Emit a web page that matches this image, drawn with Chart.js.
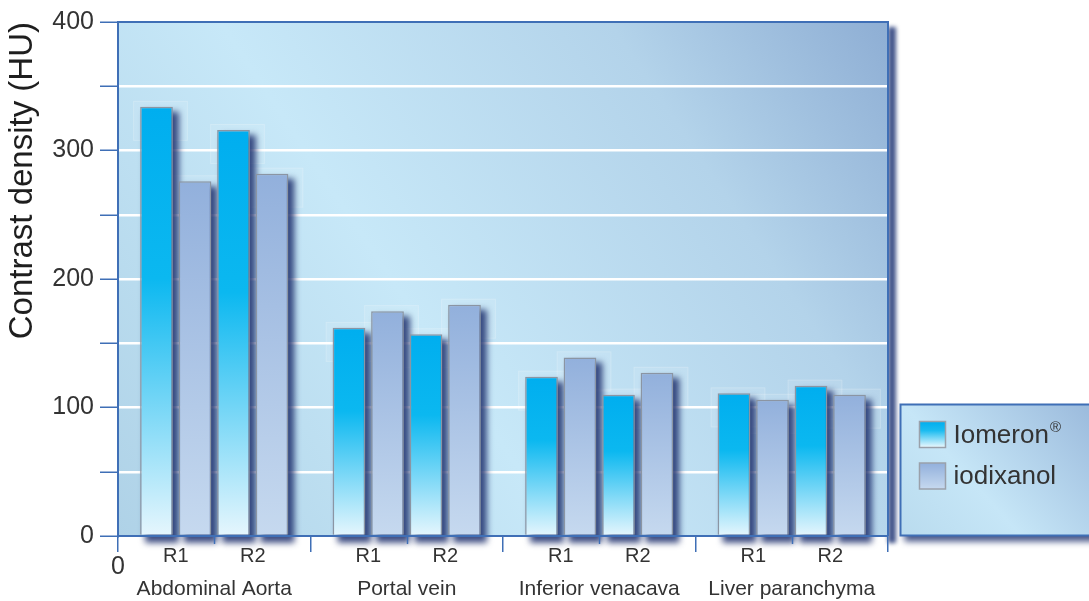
<!DOCTYPE html>
<html>
<head>
<meta charset="utf-8">
<title>Contrast density</title>
<script src="https://cdn.jsdelivr.net/npm/chart.js@4.4.0/dist/chart.umd.min.js"></script>
<style>
  html, body { margin: 0; padding: 0; background: #fff; }
  #wrap { width: 1089px; height: 601px; position: relative; }
</style>
</head>
<body>
<div id="wrap"><canvas id="density"></canvas></div>
<script>
// regions along the x axis, two readers per region
const regions = ['Abdominal Aorta', 'Portal vein', 'Inferior venacava', 'Liver paranchyma'];
const readers = ['R1', 'R2'];

// mean contrast density in HU, one value per region
const iomeronR1 = [334, 162, 124, 111];
const iodixanolR1 = [276, 175, 139, 106];
const iomeronR2 = [316, 157, 110, 117];
const iodixanolR2 = [282, 180, 127, 110];

const agents = ['Iomeron®', 'iodixanol'];
const yLabelled = [0, 100, 200, 300, 400];
const yTitle = 'Contrast density (HU)';
const originLabel = '0';

const FONT = "'Liberation Sans', Arial, sans-serif";
const AXIS_BLUE = '#3f6fb6';
const TEXT = '#333333';

const iomeronStops = [[0, '#00aeef'], [0.4, '#0bb8f0'], [1, '#e6f6fd']];
const iodixanolStops = [[0, '#92b0dc'], [1, '#c6d9ef']];

// vertical gradient spanning each bar from its top down to zero
function barFill(stops) {
    return (c) => {
        const chart = c.chart;
        if (!chart.chartArea || typeof c.raw !== 'number') return stops[0][1];
        const y = chart.scales.y;
        const g = chart.ctx.createLinearGradient(0, y.getPixelForValue(c.raw), 0, y.getPixelForValue(0));
        stops.forEach(([o, col]) => g.addColorStop(o, col));
        return g;
    };
}

function makeDataset(label, data, stops) {
    return {
        label: label,
        data: data,
        backgroundColor: barFill(stops),
        borderColor: '#8b95a3',
        borderWidth: 1.5,
        borderSkipped: 'bottom',
    };
}

const plotDecor = {
    id: 'plotDecor',
    beforeDraw(chart) {
        const { ctx, chartArea: a } = chart;
        ctx.save();
        // shadow on the right of the plot frame
        ctx.filter = 'blur(2px)';
        ctx.fillStyle = 'rgba(45,65,125,0.9)';
        ctx.fillRect(a.right, a.top + 5, 8, a.bottom - a.top + 2);
        ctx.restore();

        const g = ctx.createLinearGradient(a.left, a.bottom, a.right, a.top);
        g.addColorStop(0, '#afd2e7');
        g.addColorStop(0.4, '#c7e8f8');
        g.addColorStop(0.75, '#b3d3ea');
        g.addColorStop(1, '#8eaed4');
        ctx.save();
        ctx.fillStyle = g;
        ctx.fillRect(a.left, a.top, a.right - a.left, a.bottom - a.top);
        ctx.restore();
    },
    beforeDatasetsDraw(chart) {
        const ctx = chart.ctx;
        const bars = [];
        chart.data.datasets.forEach((ds, i) => {
            chart.getDatasetMeta(i).data.forEach((bar) => bars.push(bar));
        });
        ctx.save();
        // faint halo behind the top of each bar
        ctx.fillStyle = 'rgba(255,255,255,0.09)';
        ctx.strokeStyle = 'rgba(255,255,255,0.18)';
        ctx.lineWidth = 1;
        bars.forEach((bar) => {
            const w = bar.width;
            ctx.fillRect(bar.x - w / 2 - 7, bar.y - 6, w + 22, 40);
            ctx.strokeRect(bar.x - w / 2 - 6.5, bar.y - 5.5, w + 21, 39);
        });
        ctx.restore();

        // soft drop shadow below and right of every bar
        ctx.save();
        ctx.filter = 'blur(3px)';
        ctx.fillStyle = 'rgba(28,46,108,0.85)';
        bars.forEach((bar) => {
            const w = bar.width;
            ctx.fillRect(bar.x - w / 2 + 5, bar.y + 5, w + 1, bar.base - bar.y + 3);
        });
        ctx.restore();
    },
    afterDatasetsDraw(chart) {
        const { ctx, chartArea: a, scales } = chart;
        ctx.save();
        ctx.strokeStyle = AXIS_BLUE;
        ctx.lineWidth = 2;
        ctx.beginPath();
        ctx.moveTo(a.left, a.top);
        ctx.lineTo(a.right, a.top);
        ctx.lineTo(a.right, a.bottom);
        ctx.stroke();
        ctx.beginPath();
        ctx.moveTo(a.left, a.bottom);
        ctx.lineTo(a.right, a.bottom);
        ctx.stroke();

        // short ticks between the two readers of a region
        ctx.lineWidth = 1.5;
        regions.forEach((r, i) => {
            const x = Math.round(scales.x.getPixelForValue(i)) + 0.5;
            ctx.beginPath();
            ctx.moveTo(x, a.bottom);
            ctx.lineTo(x, a.bottom + 8);
            ctx.stroke();
        });

        // reader labels under each pair of bars
        ctx.fillStyle = TEXT;
        ctx.font = '20px ' + FONT;
        ctx.textAlign = 'center';
        ctx.textBaseline = 'middle';
        readers.forEach((rd, k) => {
            const m1 = chart.getDatasetMeta(2 * k).data;
            const m2 = chart.getDatasetMeta(2 * k + 1).data;
            regions.forEach((r, i) => {
                ctx.fillText(rd, (m1[i].x + m2[i].x) / 2, a.bottom + 20);
            });
        });

        ctx.font = '25px ' + FONT;
        ctx.fillText(originLabel, a.left, a.bottom + 31);
        ctx.restore();

        drawLegend(chart);
    },
};

function drawLegend(chart) {
    const { ctx, chartArea: a } = chart;
    const lx = a.right + 12.5, ly = a.bottom - 131.5, lw = chart.width - lx + 20, lh = 131;
    ctx.save();
    ctx.filter = 'blur(3px)';
    ctx.fillStyle = 'rgba(28,46,108,0.8)';
    ctx.fillRect(lx + 4, ly + 6, lw, lh);
    ctx.restore();

    ctx.save();
    const g = ctx.createLinearGradient(lx, ly + lh, lx + 190, ly - 40);
    g.addColorStop(0, '#b9dbee');
    g.addColorStop(0.35, '#c6e6f7');
    g.addColorStop(1, '#93b2d7');
    ctx.fillStyle = g;
    ctx.fillRect(lx, ly, lw, lh);
    ctx.strokeStyle = AXIS_BLUE;
    ctx.lineWidth = 2;
    ctx.strokeRect(lx, ly, lw, lh);

    agents.forEach((name, i) => {
        const sx = lx + 19, sy = ly + 17 + i * 41.5, s = 26;
        const sg = ctx.createLinearGradient(0, sy, 0, sy + s);
        if (i === 0) {
            sg.addColorStop(0, '#00aeef');
            sg.addColorStop(0.35, '#1cbcf0');
            sg.addColorStop(1, '#eef9fe');
        } else {
            iodixanolStops.forEach(([o, col]) => sg.addColorStop(o, col));
        }
        ctx.fillStyle = sg;
        ctx.fillRect(sx, sy, s, s);
        ctx.strokeStyle = '#9aa1ab';
        ctx.lineWidth = 1.5;
        ctx.strokeRect(sx, sy, s, s);

        ctx.fillStyle = TEXT;
        ctx.textAlign = 'left';
        ctx.textBaseline = 'middle';
        const main = name.replace('®', '');
        ctx.font = '26px ' + FONT;
        ctx.fillText(main, sx + 34, sy + s / 2 + 1);
        if (name.includes('®')) {
            const w = ctx.measureText(main).width;
            ctx.font = '15px ' + FONT;
            ctx.fillText('®', sx + 35 + w, sy + s / 2 - 7);
        }
    });
    ctx.restore();
}

new Chart(document.getElementById('density'), {
    type: 'bar',
    data: {
        labels: regions,
        datasets: [
            makeDataset(agents[0], iomeronR1, iomeronStops),
            makeDataset(agents[1], iodixanolR1, iodixanolStops),
            makeDataset(agents[0], iomeronR2, iomeronStops),
            makeDataset(agents[1], iodixanolR2, iodixanolStops),
        ],
    },
    options: {
        responsive: true,
        maintainAspectRatio: false,
        animation: false,
        categoryPercentage: 0.8,
        barPercentage: 0.85,
        layout: { padding: { top: 22, right: 201, left: 0, bottom: 0 } },
        plugins: {
            legend: { display: false },
            tooltip: { enabled: false },
        },
        scales: {
            x: {
                offset: true,
                grid: {
                    offset: true,
                    drawOnChartArea: false,
                    color: AXIS_BLUE,
                    lineWidth: 1.5,
                    tickLength: 16,
                },
                border: { color: AXIS_BLUE, width: 2 },
                ticks: {
                    color: TEXT,
                    padding: 25,
                    font: { family: FONT, size: 21 },
                },
                afterFit(scale) { scale.height = 65; },
            },
            y: {
                min: 0,
                max: 400,
                ticks: {
                    stepSize: 50,
                    color: TEXT,
                    padding: 6,
                    font: { family: FONT, size: 25 },
                    callback: (v) => (yLabelled.includes(v) ? String(v) : ''),
                },
                grid: {
                    color: (c) => (c.tick && (c.tick.value === 0 || c.tick.value === 400) ? 'rgba(0,0,0,0)' : '#ffffff'),
                    lineWidth: 2.5,
                    tickColor: AXIS_BLUE,
                    tickWidth: 1.5,
                    tickLength: 18,
                },
                border: { color: AXIS_BLUE, width: 2 },
                title: {
                    display: true,
                    text: yTitle,
                    align: 'end',
                    color: '#1e1e1e',
                    padding: { top: 3, bottom: 0 },
                    font: { family: FONT, size: 33 },
                },
                afterFit(scale) { scale.width = 118; },
            },
        },
    },
    plugins: [plotDecor],
});
</script>
</body>
</html>
